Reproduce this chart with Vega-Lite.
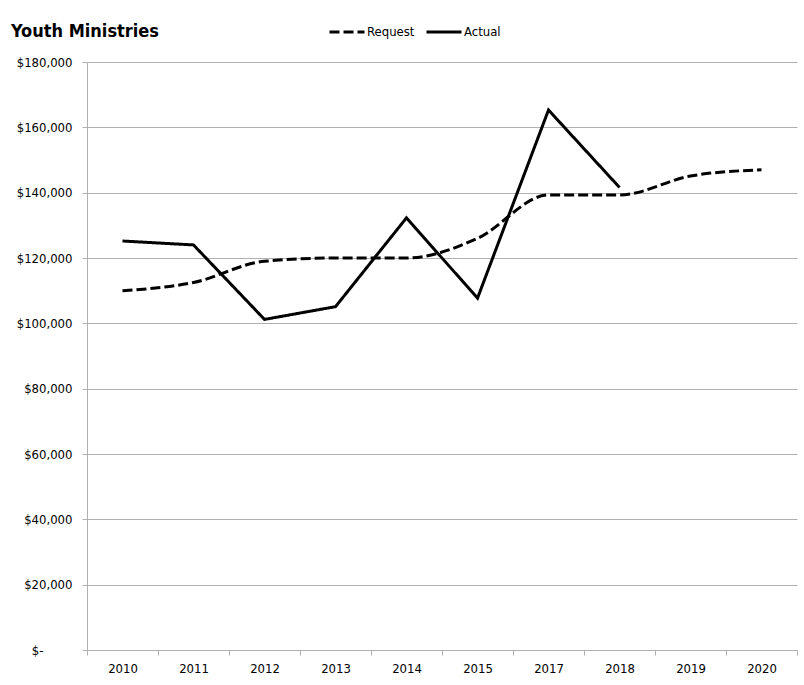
{
  "$schema": "https://vega.github.io/schema/vega-lite/v6.json",
  "width": 710,
  "height": 588,
  "autosize": {"type": "none"},
  "padding": {"left": 87, "top": 62, "right": 7, "bottom": 35},
  "background": "white",
  "title": {
    "text": "Youth Ministries",
    "anchor": "start",
    "frame": "group",
    "dx": -76,
    "dy": 28,
    "offset": 0,
    "fontSize": 18,
    "font": "DejaVu Sans Condensed",
    "fontWeight": "bold",
    "color": "black"
  },
  "data": {
    "values": [
      {"year": "2010", "series": "Request", "value": 110000},
      {"year": "2011", "series": "Request", "value": 112500},
      {"year": "2012", "series": "Request", "value": 119000},
      {"year": "2013", "series": "Request", "value": 120000},
      {"year": "2014", "series": "Request", "value": 120000},
      {"year": "2015", "series": "Request", "value": 126000},
      {"year": "2017", "series": "Request", "value": 139300},
      {"year": "2018", "series": "Request", "value": 139300},
      {"year": "2019", "series": "Request", "value": 145100},
      {"year": "2020", "series": "Request", "value": 147000},
      {"year": "2010", "series": "Actual", "value": 125200},
      {"year": "2011", "series": "Actual", "value": 124000},
      {"year": "2012", "series": "Actual", "value": 101200},
      {"year": "2013", "series": "Actual", "value": 105100},
      {"year": "2014", "series": "Actual", "value": 132300},
      {"year": "2015", "series": "Actual", "value": 107700},
      {"year": "2017", "series": "Actual", "value": 165300},
      {"year": "2018", "series": "Actual", "value": 141600}
    ]
  },
  "encoding": {
    "x": {
      "field": "year",
      "type": "ordinal",
      "scale": {"type": "band", "paddingInner": 0, "paddingOuter": 0},
      "axis": {
        "title": null,
        "tickBand": "extent",
        "grid": false,
        "labelAngle": 0,
        "domainColor": "#b0b0b0",
        "tickColor": "#b0b0b0",
        "tickSize": 5,
        "labelPadding": 7,
        "labelFontSize": 13,
        "labelFont": "DejaVu Sans Condensed",
        "labelColor": "black"
      }
    },
    "y": {
      "field": "value",
      "type": "quantitative",
      "scale": {"domain": [0, 180000], "nice": false},
      "axis": {
        "title": null,
        "values": [0, 20000, 40000, 60000, 80000, 100000, 120000, 140000, 160000, 180000],
        "grid": true,
        "gridColor": "#b0b0b0",
        "domainColor": "#b0b0b0",
        "tickColor": "#b0b0b0",
        "tickSize": 5,
        "labelPadding": {"condition": {"test": "datum.value == 0", "value": 39}, "value": 10},
        "labelFontSize": 13,
        "labelFont": "DejaVu Sans Condensed",
        "labelColor": "black",
        "labelExpr": "datum.value == 0 ? '$-' : '$' + format(datum.value, ',')"
      }
    },
    "strokeDash": {
      "field": "series",
      "type": "nominal",
      "scale": {"domain": ["Request", "Actual"], "range": [[10, 4], [1, 0]]},
      "legend": {
        "title": null,
        "orient": "none",
        "direction": "horizontal",
        "legendX": 241,
        "legendY": -49,
        "symbolType": "stroke",
        "symbolStrokeColor": "black",
        "symbolStrokeWidth": 3,
        "symbolSize": 1225,
        "labelFontSize": 13,
        "labelFont": "DejaVu Sans Condensed",
        "labelColor": "black",
        "labelOffset": 1,
        "columnPadding": 5
      }
    }
  },
  "layer": [
    {
      "transform": [{"filter": "datum.series == 'Request'"}],
      "mark": {"type": "line", "interpolate": "monotone", "strokeWidth": 3, "color": "black", "strokeCap": "butt"}
    },
    {
      "transform": [{"filter": "datum.series == 'Actual'"}],
      "mark": {"type": "line", "strokeWidth": 3, "color": "black"}
    }
  ],
  "config": {"view": {"stroke": null}}
}
